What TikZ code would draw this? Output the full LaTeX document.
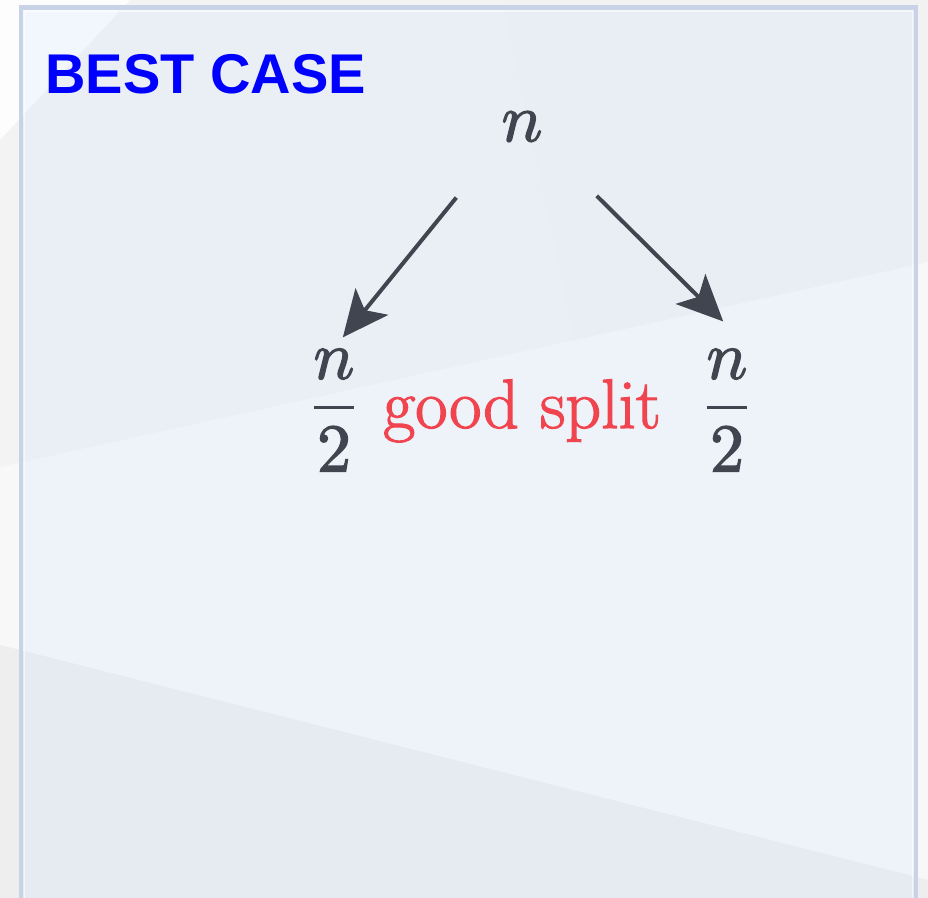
\documentclass[tikz,border=0pt]{standalone}
\usepackage{amsmath}
\usepackage{fontspec}
\usepackage{unicode-math}
\setmathfont{Latin Modern Math}[FakeBold=2]
\newfontfamily\headfont{Liberation Sans}
\newfontfamily\splitfont{Latin Modern Roman}[FakeBold=1.8]
\usetikzlibrary{arrows.meta}

\definecolor{inkgray}{HTML}{41454F}
\definecolor{splitred}{HTML}{F0444F}
\definecolor{boxline}{HTML}{C8D4E6}
\definecolor{boxtint}{HTML}{C6DAFF}
\definecolor{bgbase}{HTML}{F3F3F3}
\definecolor{bgshade}{HTML}{F2F2F2}
\definecolor{bglight}{HTML}{FDFDFD}
\definecolor{bgband}{HTML}{F8F8F8}
\definecolor{bglow}{HTML}{EEEEEE}

\begin{document}
\begin{tikzpicture}[x=0.5pt, y=-0.5pt,
    >={Stealth[length=23pt, width=21pt, inset=5.5pt]},
    mathnode/.style={inner sep=0pt, text=inkgray, font=\fontsize{34}{40}\selectfont},
    arr/.style={->, draw=inkgray, line width=2pt}]
	\useasboundingbox (0,0) rectangle (928,898);
	
	% background panes
	\begin{scope}
		\clip (0,0) rectangle (928,898);
		\fill[bgbase] (0,0) rectangle (928,898);
		\fill[bgshade] (503,0) -- (928,0) -- (928,262) -- (575,340) -- cycle;
		\fill[bglight] (0,0) -- (130,0) -- (0,140) -- cycle;
		\fill[bgband] (0,467) -- (928,262) -- (928,880) -- (0,645) -- cycle;
		\fill[bglow] (0,645) -- (928,880) -- (928,898) -- (0,898) -- cycle;
		
		\fill[boxtint, fill opacity=0.2] (21,7.5) rectangle (916,920);
		\draw[white, opacity=0.6, line width=0.6pt] (24.5,920) -- (24.5,11) -- (912.5,11) -- (912.5,920);
		\draw[boxline, line width=2.1pt] (21,920) -- (21,7.5) -- (916,7.5) -- (916,920);
	\end{scope}
	
	\node[anchor=base west, inner sep=0pt, text=blue, font=\headfont\bfseries\fontsize{28}{32}\selectfont] (title) at (45,94) {BEST CASE};
	
	\node[mathnode] (top) at (522,126.5) {$n$};
	\node[mathnode] (left) at (334,410) {$\dfrac{n}{2}$};
	\node[mathnode] (right) at (727,410) {$\dfrac{n}{2}$};
	\node[anchor=base, inner sep=0pt, text=splitred, font=\splitfont\fontsize{35}{40}\selectfont] (split) at (522,428) {good split};
	
	\draw[arr, shorten <=35.6pt, shorten >=7pt] (top.south west) -- (left.north);
	\draw[arr, shorten <=38pt, shorten >=19pt] (top.south east) -- (right.north east);
	
\end{tikzpicture}
\end{document}
